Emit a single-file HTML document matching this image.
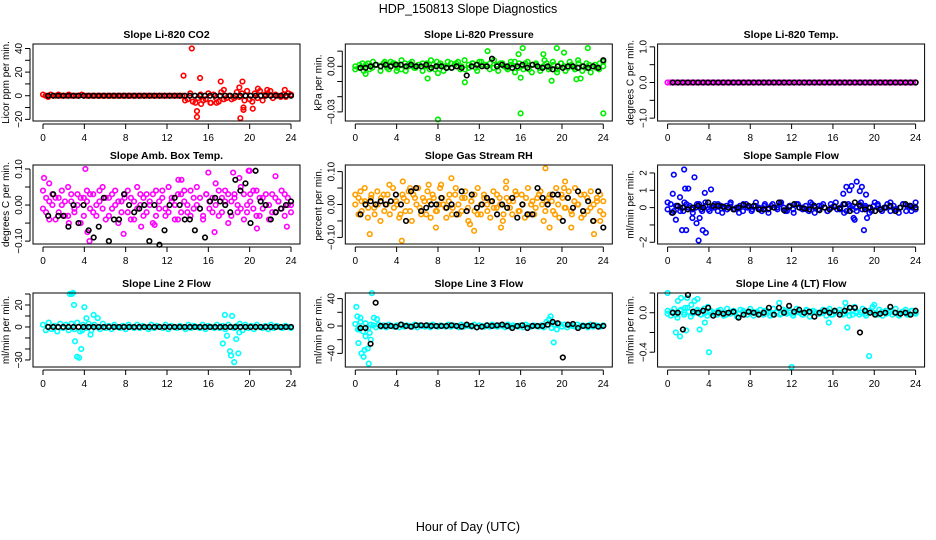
<!DOCTYPE html>
<html><head><meta charset="utf-8">
<style>
html,body{margin:0;padding:0;background:#fff;}
svg{display:block;font-family:"Liberation Sans",sans-serif;}
</style></head>
<body>
<svg id="chart" width="936" height="540" viewBox="0 0 936 540">
<text x="468" y="13" font-size="12.5" text-anchor="middle">HDP_150813  Slope Diagnostics</text>
<text x="468" y="531" font-size="12.5" text-anchor="middle">Hour of Day (UTC)</text>
</svg>
<script>
const xTicks = [0,4,8,12,16,20,24];

const co2Main = [1,0,-1,1,0,0,1,0,0,0,1,0,0,0,0,1,0,0,0,0,0,0,0,0,0,0,0,0,0,0,0,0,0,0,0,0,0,0,0,0,0,0,0,0,0,0,0,0,0,0,0,0,0,0,0,-4,-3,2,-5,-6,-2,1,-4,-3,2,-6,1,-2,-5,3,-3,-2,0,-3,-2,3,-1,2,-4,4,-3,-5,2,-2,4,-4,1,2,0,-2,1,0,-1,1,-1,2,1];
const co2OutX = [13.6,14.4,14.9,14.9,15.2,17.2,17.5,19.1,19.3,19.4,19.4,19.0,20.3,20.8,21.7,23.4,16.2,16.8,15.3,22.0];
const co2OutY = [17,40,-13,-18,15,12,5,-19,12,-10,-12,7,-11,6,5,5,-6,-6,-7,4];
const co2Black = new Array(49).fill(0);

const presMain = [0,-0.001,0.002,0.001,-0.002,0.003,0.001,0,0.002,-0.001,0.003,0.002,0.001,-0.002,0.002,0,0.003,-0.001,0.001,0.002,0,-0.002,0.001,0.003,0.002,0,-0.001,0.002,0.001,0.003,0,-0.002,0.001,0.002,-0.001,0.003,0.001,0,0.002,-0.001,0.001,0.002,0,-0.002,0.001,0.003,-0.001,0,0.002,-0.002,0.001,0.002,-0.001,0,0.002,-0.001,0.001,-0.002,0.002,0,-0.001,0.001,-0.002,0.002,0,-0.001,0.001,0,-0.001,0.002,0];
const presSpread = [-0.002,0.001,-0.003,0.002,-0.001,0.001,-0.003,0.003,-0.002,0.002,-0.001,0.004,-0.003,0.002,-0.001,0.001,-0.003,0.002,0.004,-0.002,0.001,-0.003,0.003,-0.001,0.002,-0.002,0.004,-0.001,0.002,-0.003,0.003,0.001,-0.002,0.004,-0.003,0.002,-0.001,0.003,-0.004,0.002,-0.002,0.003,-0.004,0.001,-0.003,0.004,-0.002,0.003,-0.004,0.002,-0.003,0.003,-0.001,0.004,-0.003,0.002,-0.004,0.001,-0.002,0.003];
const presOutX = [8,8,16,24,12.8,16.2,19.5,22.5,20.2,15.8,18.2,7,10.6,16,19,21.4,4,1,21.8];
const presOutY = [-0.0045,-0.035,-0.031,-0.031,0.01,0.012,0.012,0.012,0.009,0.008,0.008,-0.008,-0.0105,-0.0075,-0.0095,-0.0085,-0.003,-0.005,-0.008];
const presBlack = [-0.001,-0.001,0,0.001,0,0.001,0,0.001,0.001,0,0.001,0,0,0.001,-0.001,0,0,-0.001,-0.001,0,-0.001,-0.006,0,0.001,0,0,0.005,0,0.001,0,-0.001,0,0.001,-0.001,0.001,0,-0.001,0,-0.002,0,-0.001,0,0,-0.001,0,-0.001,0,-0.001,0.004];

const tempMain = new Array(97).fill(0);
const tempBlack = new Array(49).fill(0);

const ambMain = [0.04,-0.02,0.01,0.03,-0.04,0.02,0.0,-0.03,0.05,0.01,-0.02,0.03,-0.05,0.02,0.04,-0.01,0.03,-0.03,0.01,0.05,-0.04,0.02,-0.01,0.04,-0.05,0.01,0.03,-0.02,0.02,-0.04,0.05,0.0,-0.03,0.03,0.01,-0.05,0.04,-0.01,0.02,-0.03,0.05,0.01,-0.04,0.03,-0.02,0.04,0.0,-0.03,0.02,0.05,-0.01,-0.04,0.03,0.01,-0.02,0.06,-0.03,0.02,0.04,-0.05,0.01,0.03,-0.02,0.05,-0.04,0.0,0.03,-0.01,0.04,-0.03,0.02,0.0,-0.04,0.03,-0.02,0.01,0.04,-0.03,0.02,0.0];
const ambSpread = [-0.01,0.02,-0.04,0.0,0.02,-0.02,0.04,0.01,-0.03,0.03,-0.01,0.0,0.02,-0.03,0.01,0.03,-0.02,0.0,0.04,-0.01,0.02,-0.03,0.03,0.0,0.01,-0.02,0.02,0.04,-0.04,0.01,-0.01,0.03,0.02,-0.02,0.0,0.03,-0.03,0.01,0.04,-0.01,-0.02,0.02,0.0,-0.04,0.03,0.01,-0.02,0.04,-0.01,0.0,0.02,-0.03,0.03,-0.01,0.02,0.0,0.04,-0.02,0.01,0.03,-0.03,0.02,0.0,-0.01,0.03,-0.02,0.01,0.04,-0.03,0.02,-0.01,0.03,0.0,-0.02,0.02,0.01,-0.01,0.03,0.0,-0.02];
const ambOutX = [0.1,0.6,4.1,4.3,4.5,7.8,10.8,13.1,13.4,16.0,16.6,18.4,19.0,19.9,20.7,22.5,23.6,20.0,2.5,9.5];
const ambOutY = [0.075,0.06,0.1,-0.075,-0.1,-0.08,-0.055,0.07,0.07,0.09,-0.075,0.09,0.075,0.095,-0.065,0.08,-0.06,0.095,-0.05,-0.06];
const ambBlack = [-0.03,0.03,-0.03,-0.03,-0.06,0.0,-0.05,0.0,-0.07,-0.09,-0.06,0.02,-0.1,-0.04,-0.04,0.03,0.0,-0.02,-0.01,0.0,-0.1,0.0,-0.11,-0.07,0.0,0.02,0.0,-0.04,-0.04,-0.07,-0.01,-0.09,0.01,0.02,0.01,0.0,-0.02,0.07,0.04,0.06,-0.05,0.095,0.01,0.0,-0.04,-0.02,-0.01,0.0,0.01];

const rhMain = [0.03,-0.03,0.01,0.05,-0.04,0.02,-0.01,0.04,-0.05,0.03,0.0,-0.03,0.05,0.01,-0.04,0.03,-0.02,0.04,-0.05,0.02,0.05,-0.03,0.01,0.04,-0.04,0.02,-0.02,0.05,0.0,-0.04,0.03,-0.01,0.05,-0.03,0.02,0.04,-0.05,0.01,-0.02,0.05,-0.03,0.03,0.0,-0.04,0.04,-0.01,0.02,-0.05,0.05,0.01,-0.03,0.04,-0.02,0.03,-0.04,0.05,0.0,-0.03,0.02,0.04,-0.05,0.01,0.03,-0.02,0.05,-0.04,0.02,-0.01,0.04,-0.03,0.05,0.0,-0.04,0.03,-0.02,0.04,-0.05,0.01,0.03,-0.03];
const rhSpread = [0.0,0.02,-0.02,0.01,-0.01,0.03,-0.03,0.0,0.02,-0.02,0.03,0.01,-0.01,0.0,-0.03,0.02,0.01,-0.02,0.03,0.0,-0.01,0.02,-0.03,0.01,0.03,-0.02,0.0,0.02,-0.01,0.01,-0.03,0.03,0.0,-0.02,0.02,-0.01,0.01,0.03,-0.03,0.0,0.02,-0.02,0.01,-0.01,0.03,0.0,-0.03,0.02,-0.01,0.01,0.03,-0.02,0.0,0.02,-0.03,0.01,-0.01,0.03,0.0,-0.02,0.02,0.01,-0.03,0.0,0.03,-0.01,0.02,-0.02,0.01,0.0,0.03,-0.03,0.02,-0.01,0.0,0.02,-0.02,0.01];
const rhOutX = [0.5,1.4,3.3,4.5,4.6,5.3,7.1,7.8,8.3,9.3,11.1,11.5,14.1,14.6,18.4,18.8,20.2,20.3,20.9,23.1,23.7];
const rhOutY = [0.04,-0.09,0.06,-0.11,0.07,0.05,0.06,-0.07,0.06,0.08,-0.06,-0.08,-0.07,0.07,0.11,-0.07,0.05,0.07,-0.07,-0.09,-0.05];
const rhBlack = [-0.03,0.0,0.01,0.0,0.01,0.0,0.01,0.03,0.0,-0.05,0.04,0.05,-0.02,-0.01,0.0,0.0,0.02,-0.01,0.0,-0.03,0.04,-0.02,0.03,-0.01,0.0,0.02,0.01,-0.03,0.0,-0.01,0.02,-0.04,0.0,-0.03,-0.03,0.05,0.02,0.0,0.03,0.03,-0.05,0.02,-0.01,0.04,-0.02,0.01,-0.05,0.04,-0.07];

const flowMain = [-0.1,0.2,-0.2,0.1,0.0,-0.2,0.2,0.1,-0.1,0.0,0.2,-0.2,0.1,-0.1,0.0,0.2,-0.2,0.1,0.0,-0.1,0.2,-0.1,0.0,0.1,-0.2,0.2,0.0,-0.1,0.1,0.0,-0.2,0.2,-0.1,0.1,0.0,-0.1,0.2,0.0,-0.2,0.1,-0.1,0.2,0.0,-0.1,0.1,-0.2,0.2,0.0,-0.1,0.1,0.0,-0.2,0.2,0.1,-0.1,0.0,0.2,-0.2,0.1,-0.1,0.0,0.2,-0.1,0.1,0.0,-0.2,0.3,0.1,-0.1,0.0,0.2,-0.2,0.1,-0.1,0.0,0.2,-0.2,0.1,0.0,-0.1];
const flowSpread = [0.3,-0.3,0.1,-0.2,0.3,0.0,-0.3,0.2,-0.1,0.3,-0.2,0.0,0.2,-0.3,0.1,0.3,-0.1,-0.3,0.2,0.0,-0.2,0.3,-0.1,0.1,-0.3,0.2,0.0,0.3,-0.2,0.1,-0.3,0.2,0.0,-0.1,0.3,-0.3,0.1,0.2,-0.2,0.0,0.3,-0.1,-0.3,0.2,0.1,-0.2,0.3,0.0,-0.3,0.1,0.2,-0.2,0.0,0.3,-0.1,-0.3,0.2,0.1,-0.2,0.3];
const flowOutX = [0.5,0.6,0.8,1.2,1.4,1.6,1.7,1.8,2.0,2.4,2.6,2.8,3.0,3.1,3.4,3.6,3.7,4.2,17.0,17.3,17.6,17.8,18.1,18.3,18.6,18.8,19.0,19.2,18.0,19.3];
const flowOutY = [0.8,1.9,-0.7,0.6,-1.3,2.2,1.1,-1.3,1.1,-0.6,1.75,-0.9,-1.9,-0.6,-1.3,0.85,-1.45,1.05,0.8,1.2,1.0,1.25,-0.7,1.5,0.95,1.2,-1.3,0.75,-0.6,-0.6];
const flowBlack = [-0.3,0.1,0.0,-0.1,0.0,0.1,0.0,0.3,0.1,0.1,0.05,0.0,-0.1,0.0,0.15,0.1,0.1,-0.1,-0.1,-0.05,0.0,0.3,-0.15,0.05,0.2,0.0,-0.05,-0.1,0.1,-0.15,0.0,-0.1,0.05,-0.05,0.2,-0.2,0.3,0.1,-0.1,0.0,-0.2,-0.1,0.0,0.1,-0.2,0.0,0.2,0.1,0.0];

const line2Main = [2,-3,4,-2,1,-4,3,-1,2,-3,3,-2,4,-4,2,-1,3,-3,2,0,-2,3,-1,1,-2,2,0,-1,1,-2,2,0,-1,2,-1,1,0,-2,2,-1,1,0,-1,2,-2,1,0,-1,1,0,-2,2,-1,1,0,-1,2,-2,1,0,-1,2,-1,1,-2,2,0,-1,1,3,-3,2,-1,1,-2,2,0,-1,1,-2,2,-1,1,0,-1,1,0,-1];
const line2OutX = [2.6,2.8,2.9,3.0,3.1,3.3,3.5,3.7,3.8,4.0,4.2,4.6,4.9,5.3,17.4,17.8,18.1,18.2,18.5,18.7,18.9,19.0,17.6,18.3];
const line2OutY = [30,30,31,20,-13,-27,-28,-20,-3,18,8,-7,11,8,-15,-8,-22,-26,-32,-11,-24,-5,11,10];
const line2Black = new Array(49).fill(0);

const line3Main = [3,-5,6,-8,4,-3,2,1,-2,2,-1,1,-2,2,0,-1,1,-2,2,-1,1,0,-1,2,-2,1,0,-1,1,-2,2,0,-1,1,0,-1,2,-1,1,0,-2,2,-1,1,0,-1,2,-2,1,0,-1,1,-1,2,0,-1,1,0,-2,2,-1,1,0,-1,1,-2,2,0,-1,1,0,-1,1,-2,6,10,-3,2,-5,3,-1,2,-2,1,0,-1,2,-1,1,0,-2,2,-1,1,0,-1,1];
const line3OutX = [0.1,0.2,0.3,0.5,0.6,0.8,0.9,1.2,1.3,1.5,1.6,1.8,2.1,18.9,19.2,19.0,0.4,1.0,1.4];
const line3OutY = [28,14,-25,12,-40,-45,-35,-33,-55,-20,48,12,10,14,-24,4,-5,-15,-10];
const line3Black = [-3,-3,-26,34,0,0,0,-1,2,0,-1,1,1,1,0,0,0,0,1,0,-1,2,0,-2,-1,1,0,1,2,0,-3,0,1,-3,0,0,0,2,6,4,-46,2,3,-3,0,0,1,-1,0];

const line4Main = [0.02,-0.03,0.04,-0.05,0.03,-0.02,0.05,-0.04,0.01,0.03,-0.02,0.04,-0.03,0.02,0.0,-0.02,0.03,-0.03,0.04,-0.01,0.02,-0.04,0.03,0.0,-0.02,0.04,-0.03,0.01,0.03,-0.02,0.02,-0.03,0.04,0.0,-0.02,0.03,-0.01,0.02,-0.03,0.04,0.0,-0.02,0.03,-0.04,0.02,0.0,-0.01,0.03,-0.03,0.04,-0.02,0.01,0.03,-0.02,0.05,-0.03,0.02,0.0,-0.02,0.04,-0.03,0.02,0.06,-0.01,0.03,-0.03,0.02,0.0,-0.02,0.04,-0.03,0.01,0.03,-0.02,0.02,-0.01];
const line4Spread = [-0.01,0.01,-0.02,0.02,0.0,0.01,-0.01,0.02,-0.02,0.0,0.01,-0.01,0.02,0.0,-0.02,0.01,0.0,-0.01,0.02,-0.02,0.01,0.0,-0.01,0.02,0.0,-0.02,0.01,-0.01,0.02,0.0,-0.01,0.01,-0.02,0.02,0.0,0.01,-0.01,0.0,0.02,-0.02,0.01,0.0,-0.01,0.02,-0.02,0.01,0.0,-0.01,0.02,0.0,-0.02,0.01,-0.01,0.02,0.0,-0.01,0.01,-0.02,0.02,0.0];
const line4OutX = [0.0,0.8,1.0,1.2,1.3,1.7,1.8,1.9,2.3,2.6,2.9,3.1,3.6,3.9,4.0,12.0,10.8,15.6,17.2,17.4,19.5,20.0,18.1];
const line4OutY = [0.2,-0.2,0.12,-0.24,0.15,0.05,-0.18,0.15,0.08,0.12,0.14,-0.17,-0.1,0.06,-0.4,-0.55,0.1,-0.1,0.1,-0.15,-0.44,0.08,0.06];
const line4Black = [0.0,0.0,-0.17,0.18,0.01,0.0,0.02,0.05,-0.03,0.0,-0.01,0.0,0.01,-0.05,-0.02,0.01,0.0,-0.02,0.0,0.05,-0.02,0.05,0.0,0.07,0.01,0.03,0.0,0.01,-0.04,0.0,0.02,0.0,0.02,-0.02,0.02,0.05,0.05,-0.2,0.02,0.0,-0.02,-0.01,0.0,0.06,0.0,-0.01,0.0,-0.02,0.02];

const panels = [
 {name:'co2',title:'Slope Li-820 CO2',ylab:'Licor ppm per min.',col:0,row:0,ymin:-21.4,ymax:43.8,ticks:[-20,-10,0,10,20,30,40],labels:[[-20,'\u221220'],[0,'0'],[20,'20'],[40,'40']],color:'#ff0000',series:[co2Main],outX:co2OutX,outY:co2OutY,black:co2Black},
 {name:'pressure',title:'Slope Li-820 Pressure',ylab:'kPa per min.',col:1,row:0,ymin:-0.036,ymax:0.0147,ticks:[-0.03,-0.02,-0.01,0,0.01],labels:[[-0.03,'\u22120.03'],[0,'0.00']],color:'#00ee00',series:[presMain,presSpread],outX:presOutX,outY:presOutY,black:presBlack},
 {name:'temp',title:'Slope Li-820 Temp.',ylab:'degrees C per min.',col:2,row:0,ymin:-1.08,ymax:1.08,ticks:[-1,-0.5,0,0.5,1],labels:[[-1,'\u22121.0'],[0,'0.0'],[1,'1.0']],color:'#ff00ff',series:[tempMain],outX:[],outY:[],black:tempBlack},
 {name:'amb-box',title:'Slope Amb. Box Temp.',ylab:'degrees C per min.',col:0,row:1,ymin:-0.108,ymax:0.111,ticks:[-0.1,-0.05,0,0.05,0.1],labels:[[-0.1,'\u22120.10'],[0,'0.00'],[0.1,'0.10']],color:'#ff00ff',series:[ambMain,ambSpread],outX:ambOutX,outY:ambOutY,black:ambBlack},
 {name:'gas-rh',title:'Slope Gas Stream RH',ylab:'percent per min.',col:1,row:1,ymin:-0.12,ymax:0.12,ticks:[-0.1,-0.05,0,0.05,0.1],labels:[[-0.1,'\u22120.10'],[0,'0.00'],[0.1,'0.10']],color:'#ffa000',series:[rhMain,rhSpread],outX:rhOutX,outY:rhOutY,black:rhBlack},
 {name:'sample-flow',title:'Slope Sample Flow',ylab:'ml/min per min.',col:2,row:1,ymin:-2.1,ymax:2.46,ticks:[-2,-1,0,1,2],labels:[[-2,'\u22122'],[0,'0'],[1,'1'],[2,'2']],color:'#0000ff',series:[flowMain,flowSpread],outX:flowOutX,outY:flowOutY,black:flowBlack},
 {name:'line2',title:'Slope Line 2 Flow',ylab:'ml/min per min.',col:0,row:2,ymin:-36.4,ymax:30.9,ticks:[-30,-20,-10,0,10,20,30],labels:[[-30,'\u221230'],[0,'0'],[20,'20']],color:'#00ffff',series:[line2Main],outX:line2OutX,outY:line2OutY,black:line2Black},
 {name:'line3',title:'Slope Line 3 Flow',ylab:'ml/min per min.',col:1,row:2,ymin:-59.9,ymax:48.2,ticks:[-40,-20,0,20,40],labels:[[-40,'\u221240'],[0,'0'],[40,'40']],color:'#00ffff',series:[line3Main],outX:line3OutX,outY:line3OutY,black:line3Black},
 {name:'line4',title:'Slope Line 4 (LT) Flow',ylab:'ml/min per min.',col:2,row:2,ymin:-0.55,ymax:0.2,ticks:[-0.4,-0.2,0,0.2],labels:[[-0.4,'\u22120.4'],[0,'0.0']],color:'#00ffff',series:[line4Main,line4Spread],outX:line4OutX,outY:line4OutY,black:line4Black}
];

const NS='http://www.w3.org/2000/svg';
const svg=document.getElementById('chart');
function mk(tag,attrs,parent){const e=document.createElementNS(NS,tag);for(const k in attrs)e.setAttribute(k,attrs[k]);(parent||svg).appendChild(e);return e;}

panels.forEach(p=>{
  const bl=33+312.3*p.col, br=bl+267;
  const bt=[44,165,293][p.row], bb=[121,244,367][p.row];
  const x0=bl+10, x1=br-9;
  const xs=h=>x0+(x1-x0)*h/24;
  const ys=v=>bb-(bb-bt)*(v-p.ymin)/(p.ymax-p.ymin);
  const g=mk('g',{});
  
  
  const t=mk('text',{x:(bl+br)/2,y:bt-6,'font-size':10.5,'font-weight':'bold','text-anchor':'middle'},g);
  t.textContent=p.title;
  
  
  const pts=mk('g',{fill:'none','stroke-width':1.6},g);
  
  
  p.series.forEach((arr,si)=>{
    arr.forEach((v,i)=>{
      const h=i*24/(arr.length-1);
      const c=mk('circle',{cx:xs(h),cy:ys(v),r:2.3,stroke:p.color},pts);
      
      
    });
  });
  p.outX.forEach((h,i)=>{
    const c=mk('circle',{cx:xs(h),cy:ys(p.outY[i]),r:2.3,stroke:p.color},pts);
    
    
  });
  p.black.forEach((v,i)=>{
    const h=0.5+i*23.5/(p.black.length-1);
    const c=mk('circle',{cx:xs(h),cy:ys(v),r:2.3,stroke:'#000'},pts);
    
    
  });
  const box=mk('rect',{x:bl,y:bt,width:br-bl,height:bb-bt,fill:'none',stroke:'#000','stroke-width':1},g);
  
  
  const xa=mk('g',{},g);
  
  
  mk('line',{x1:xs(0),x2:xs(24),y1:bb+3,y2:bb+3,stroke:'#000'},xa);
  xTicks.forEach(h=>{
    mk('line',{x1:xs(h),x2:xs(h),y1:bb+3,y2:bb+8,stroke:'#000'},xa);
    const tl=mk('text',{x:xs(h),y:bb+20,'font-size':10,'text-anchor':'middle'},xa);
    tl.textContent=h;
    
    
  });
  const ya=mk('g',{},g);
  
  
  const tv=p.ticks;
  mk('line',{x1:bl-3,x2:bl-3,y1:ys(tv[0]),y2:ys(tv[tv.length-1]),stroke:'#000'},ya);
  tv.forEach(v=>mk('line',{x1:bl-3,x2:bl-8,y1:ys(v),y2:ys(v),stroke:'#000'},ya));
  p.labels.forEach(([v,s])=>{
    const tl=mk('text',{x:0,y:0,'font-size':10,'text-anchor':'middle',transform:`translate(${bl-11},${ys(v)}) rotate(-90)`},ya);
    tl.textContent=s;
    
    
  });
  const yl=mk('text',{x:0,y:0,'font-size':10,'text-anchor':'middle',transform:`translate(${bl-24},${(bt+bb)/2}) rotate(-90)`},ya);
  yl.textContent=p.ylab;
  
  
});
</script>
</body></html>
